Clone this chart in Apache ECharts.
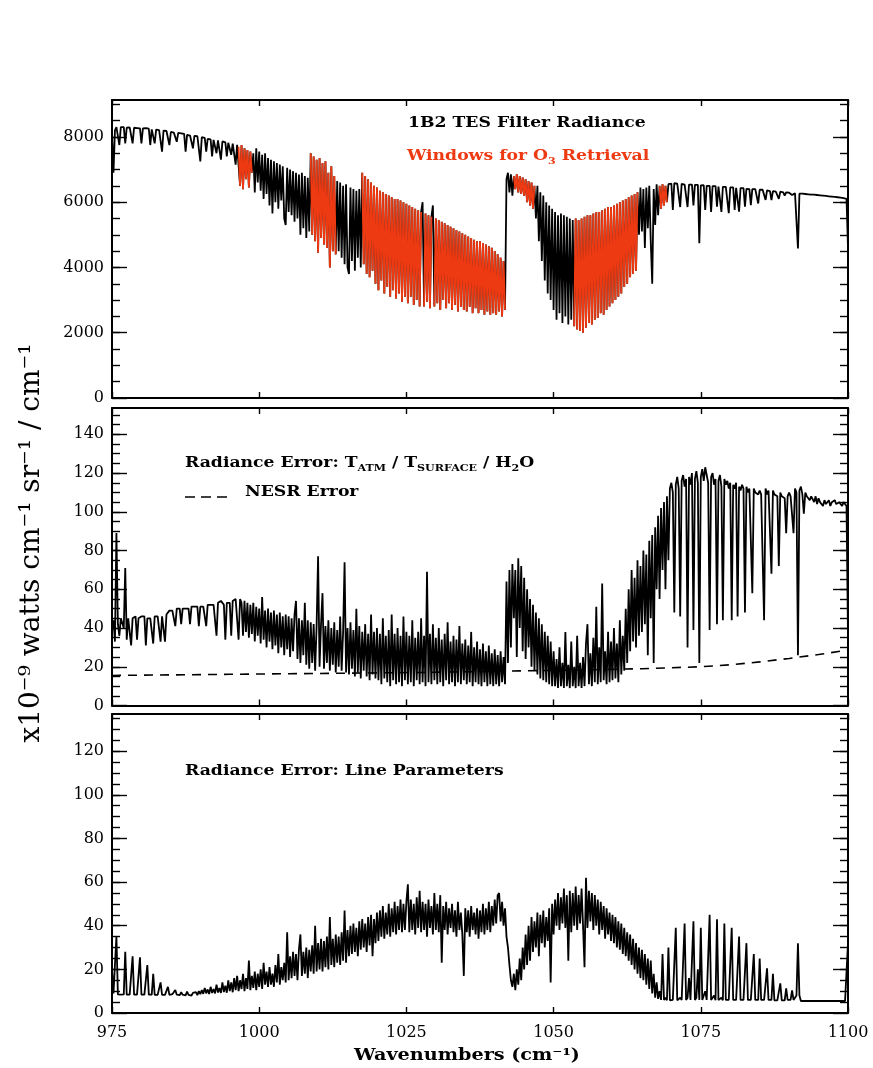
<!DOCTYPE html>
<html><head><meta charset="utf-8">
<script src="https://cdn.jsdelivr.net/npm/echarts@6/dist/echarts.min.js"></script>
<style>html,body{margin:0;padding:0;background:#fff}#c{width:873px;height:1068px}</style>
</head><body><div id="c"></div>
<script>
// wavenumber grid: 975 + 0.25*i  (501 samples, 975..1100 cm-1)
const WN_START = 975, WN_STEP = 0.25;

// Panel 1: 1B2 TES filter radiance (x1e-9 W cm-1 sr-1 / cm-1)
const radiance = [
8150,6900,8200,8300,8320,7750,8300,8330,8300,7800,8280,8310,8290,8300,7800,8280,8300,8270,8290,8260,
7800,8260,8250,8270,8240,8250,7750,8230,8220,7800,8220,8200,8210,8180,7550,8190,8170,8180,8160,7750,
8150,8160,8130,8140,7850,8120,8100,8110,8080,8090,7550,8060,8070,8040,8050,7650,8030,8010,8020,7990,
7250,7990,7960,7970,7550,7940,7950,7920,7400,7910,7900,7500,7890,7870,7300,7860,7850,7830,7400,7820,
7800,7450,7790,7780,7150,7760,7700,6500,7750,6400,7650,6700,7600,6450,7550,6900,7500,6300,7650,6600,
7550,6350,7450,6100,7500,6250,7350,5900,7300,5650,7250,6000,7200,5800,7150,6050,7100,5500,5300,7050,
5700,7000,5600,6950,5400,6900,5500,6850,5000,6900,5200,6800,4900,6750,5100,7500,5000,7400,4800,7300,
4450,7350,4900,7200,4700,7250,4600,6900,4000,7100,4500,6800,4400,6650,4500,6600,4300,6500,4100,6550,
4000,3800,6450,4200,6400,3900,6350,4300,6400,4000,6900,4100,6800,3800,6700,3700,6600,3900,6500,3500,
6450,3300,6350,3600,6300,3200,6250,3400,6200,3100,6150,3300,6100,3050,6100,3200,6050,2950,6000,3100,
5950,2900,5900,3100,5850,2850,5800,3000,5750,2800,5700,6000,2800,5650,2950,5600,2750,5550,5900,2800,
5500,2900,5450,2700,5400,3000,5350,2750,5300,2900,5250,2700,5200,2850,5150,2650,5100,2800,5050,2700,
5000,2650,4950,2800,4900,2600,4850,2750,4800,2600,4800,2700,4750,2550,4700,2650,4650,2550,4600,2600,
4500,2550,4400,2650,4300,2500,4200,2700,6700,6900,6300,6850,6200,6800,6400,6850,6300,6800,6250,6750,
6200,6700,6000,6650,5900,6600,5800,6500,5500,6500,4800,6300,4200,6200,3600,6000,3200,5900,3000,5800,
2700,5700,2400,5600,2600,5650,2300,5600,2500,5550,2250,5500,2400,5450,2200,5500,2100,5450,2050,5500,
2000,5550,2150,5600,2300,5600,2250,5650,2400,5700,2450,5700,2600,5750,2550,5800,2700,5850,2800,5850,
2900,5900,3000,5950,3100,6000,3200,6050,3400,6100,3500,6150,3700,6200,3800,6250,3900,6300,5000,6450,
5100,6400,4600,6450,5200,6500,4800,3500,6400,5300,6550,5600,6500,5800,6550,5900,6500,6000,6550,6580,
6570,5760,6580,6560,6570,6550,5850,6560,6550,6540,6550,5850,6540,6530,6540,5900,6530,6520,6530,4740,
6510,6500,6520,5760,6500,6490,6500,5700,6490,6480,6490,5860,6480,6470,5700,6470,6460,6470,6450,5660,
6450,6440,6450,5760,6440,6430,5710,6430,6420,6430,5860,6410,6420,6400,5910,6400,6390,6400,6380,5960,
6380,6370,6380,6360,6070,6360,6350,6340,6060,6340,6330,6320,6330,6100,6320,6310,6300,6200,6300,6290,
6290,6280,6220,6280,6270,6260,4580,6260,6250,6260,6240,6250,6230,6240,6200,6230,6220,6230,6210,6220,
6200,6210,6190,6200,6180,6190,6170,6180,6160,6170,6150,6160,6140,6150,6130,6140,6130,6120,6130,6100,
4600];

// O3 retrieval windows (cm-1), drawn in red over the radiance
const o3Windows = [[996.5,998.75],[1008.75,1013],[1017.5,1027.5],[1028,1029.25],[1029.75,1041.75],[1043.25,1046.75],[1053.5,1064.25],[1068,1069.25]];

// Panel 2: radiance error from T_ATM / T_SURFACE / H2O
const errTempH2O = [
40,44,33,89,42,36,45,44,40,71,34,45,44,31,45,44,46,34,45,44,
46,45,46,31,45,46,45,46,32,46,45,46,47,33,46,47,33,47,48,49,
50,49,50,41,50,51,50,42,50,51,50,51,50,42,51,50,51,52,51,41,
51,52,51,52,41,52,53,52,53,52,53,36,53,52,54,53,52,34,53,54,
53,36,54,53,55,54,34,55,53,36,54,38,53,35,52,37,53,33,51,36,
50,32,56,34,49,30,50,33,48,29,49,31,47,27,48,30,46,26,47,29,
46,25,45,28,47,54,24,45,22,44,26,53,21,44,19,43,22,42,18,41,
77,20,42,58,19,41,22,44,18,40,21,43,17,39,20,46,18,38,74,17,
40,16,43,19,39,15,50,17,41,14,38,18,42,15,37,13,47,16,38,14,
40,13,37,11,45,14,36,12,39,10,47,13,37,11,40,12,36,10,46,13,
38,11,36,12,44,10,35,13,38,11,45,12,36,10,69,12,37,11,42,13,
35,11,40,12,34,10,37,13,43,11,33,12,36,10,34,12,41,11,32,13,
34,11,31,12,38,10,30,12,33,11,29,10,32,12,28,10,31,11,27,10,
29,11,26,10,28,12,25,11,64,22,70,30,73,45,70,25,76,40,72,28,
66,24,60,30,55,20,52,18,48,16,45,14,42,13,38,12,36,11,33,10,
28,10,24,9,30,10,22,9,38,10,21,9,33,10,20,9,36,10,22,9,
25,10,32,42,11,27,10,35,12,51,11,30,12,63,13,28,11,38,12,33,
13,40,14,32,12,44,16,36,18,50,22,60,28,70,33,66,30,75,36,72,
38,80,42,78,26,85,45,88,22,92,60,98,55,102,70,105,60,108,75,112,
115,110,48,114,118,112,46,116,119,113,117,30,118,114,120,39,117,121,115,22,
118,122,116,123,119,115,39,118,120,114,117,42,116,119,113,44,117,114,116,112,
115,44,114,112,115,46,113,111,114,112,48,113,110,112,111,58,112,110,111,109,
111,109,110,44,112,109,111,110,68,111,109,110,108,72,110,108,109,107,89,108,
110,108,109,89,112,110,26,111,113,109,99,110,108,109,106,108,107,105,108,104,
107,105,106,103,106,104,105,106,103,105,104,106,104,103,105,104,103,105,104,103,
35];

// Panel 2: NESR error (dashed)
const nesrWn  = [975, 985, 995, 1005, 1015, 1025, 1035, 1045, 1055, 1065, 1075, 1080, 1085, 1090, 1095, 1100];
const nesrErr = [15.5,15.8,16.1,16.4,16.7,17.0,17.4,17.9,18.4,19.0,20.0,21.0,22.5,24.3,26.3,28.6];

// Panel 3: radiance error from line parameters
const errLinePar = [
20,9,8.5,35,8.5,8.3,8.4,8.3,8.5,28,8.4,8.3,8.4,8.3,26,8.4,8.3,8.4,8.4,25.5,
8.4,8.3,8.4,8.5,22,8.4,8.3,8.4,18,8.3,8.4,8.3,8.4,14,8.3,8.4,8.3,8.4,12,8.3,
8.4,8.6,8.3,10.5,8.4,8.7,8.2,9.5,8.4,8.8,8.1,9.8,8.3,9,8,9.2,8.4,9.6,8.2,10,
8.6,10.5,8.8,11.5,9,10.8,8.7,12,9.2,11,9,13,9.4,11.5,9.2,14,9.6,12.5,9.3,15,
10,14,9.5,16,10.5,17,10,15,11,18,10,16,11,24,10.5,17,11.5,19,10.5,18,
12,20,11,23,13,19,12,21,13,18,12,22,14,27,13,21,15,23,14,37,
15,26,16,28,17,27,15,29,36,17,28,18,30,16,29,19,31,18,40,19,
32,20,34,19,33,21,35,20,44,22,34,21,36,23,35,22,37,24,47,23,
38,26,40,27,41,28,39,26,42,29,43,30,41,28,44,31,45,26,43,32,
46,33,47,35,49,34,46,36,50,35,48,37,51,36,49,38,52,37,50,38,
51,59,37,52,38,50,36,53,39,56,37,51,38,50,35,52,39,49,36,55,
38,50,37,54,23,49,38,51,36,48,39,50,37,47,35,51,38,46,36,17,
48,37,47,35,49,38,46,36,48,34,47,37,50,36,48,38,51,37,49,40,
52,41,54,55,42,51,40,48,35,30,22,15,12,18,10.5,20,13,25,15,30,
20,36,22,40,24,44,28,42,30,46,26,45,32,47,30,44,33,48,14,50,
36,52,40,55,38,53,41,57,39,54,24,56,37,55,40,58,38,54,41,57,
40,21,62,39,56,42,55,38,54,40,52,36,51,38,49,34,48,36,46,33,
45,32,44,30,42,29,41,27,39,26,37,24,36,22,34,20,32,18,30,16,
29,15,27,13,25,11,24,9,18,7,14,6.5,10,6,27,6,7,5.8,30,5.8,
5.8,6,5.8,39,5.8,6,7,6,5.8,41,6,7,16,6,5.8,42,6,7,20,6,
39,6,5.8,10,6,5.8,45,6,5.8,8,5.8,43,6,5.8,7,5.8,41,6,5.8,6,
5.8,39,6,5.8,6,5.8,35,6,5.8,6,5.8,32,6,5.8,6,5.8,27,6,5.8,6,
25,6,5.8,6,5.8,20.5,6,5.8,6,18,5.8,6,5.8,6,13.6,5.8,6,5.8,11.3,6,
5.8,6,10.4,6,5.8,8,32,8,5.5,5.4,5.5,5.4,5.5,5.4,5.5,5.4,5.5,5.4,5.5,5.4,
5.5,5.4,5.5,5.4,5.5,5.4,5.5,5.4,5.5,5.4,5.5,5.4,5.5,5.4,5.5,5.4,5.5,5.4,5.5,5.5,
32];

// axis ticks
const xTickVals = [975, 1000, 1025, 1050, 1075, 1100];
const p1Major = [0, 2000, 4000, 6000, 8000];
const p2Major = [0, 20, 40, 60, 80, 100, 120, 140];
const p3Major = [0, 20, 40, 60, 80, 100, 120];
const panelMax = [9130, 153.6, 137];
const minorStep = [500, 5, 5];

const FONT = 'DejaVu Serif';
const RED = '#ee3a12';

function toPairs(arr){ return arr.map((v,i)=>[WN_START + WN_STEP*i, v]); }
function inWin(w){ return o3Windows.some(r => w >= r[0]-1e-6 && w <= r[1]+1e-6); }
const radPairs = toPairs(radiance);
const redPairs = radPairs.map(p => inWin(p[0]) ? p : [p[0], '-']);
const errPairs = toPairs(errTempH2O);
const linePairs = toPairs(errLinePar);
const nesrPairs = nesrWn.map((w,i)=>[w, nesrErr[i]]);

const majors = [p1Major, p2Major, p3Major];
const minors = majors.map((m,p)=>{ const out=[]; for(let v=minorStep[p]; v<panelMax[p]; v+=minorStep[p]) out.push(v); return out; });

const grids = [
  {left:112, width:736, top:100, height:298},
  {left:112, width:736, top:408, height:297.5},
  {left:112, width:736, top:714, height:299}
];
const AXL = {show:true, onZero:false, lineStyle:{color:'#000', width:2}};
const TK = {color:'#000', width:1.4};
const plain = v => String(v);
const xAxis = [], yAxis = [];
for (let p=0;p<3;p++){
  ['bottom','top'].forEach(pos=>{
    xAxis.push({gridIndex:p, type:'value', min:975, max:1100, position:pos,
      axisLine:AXL,
      axisTick:{show:true, inside:true, length:6, customValues:xTickVals, lineStyle:TK},
      axisLabel:{show:(p===2 && pos==='bottom'), customValues:xTickVals, formatter:plain, margin:12, fontFamily:FONT, fontSize:16, color:'#000'},
      splitLine:{show:false}});
  });
  ['left','right'].forEach(pos=>{
    yAxis.push({gridIndex:p, type:'value', min:0, max:panelMax[p], position:pos,
      axisLine:AXL,
      axisTick:{show:true, inside:true, length:15, customValues:majors[p], lineStyle:TK},
      axisLabel:{show:pos==='left', customValues:majors[p], formatter:plain, margin:8, fontFamily:FONT, fontSize:16, color:'#000'},
      splitLine:{show:false}});
    yAxis.push({gridIndex:p, type:'value', min:0, max:panelMax[p], position:pos,
      axisLine:{show:false},
      axisTick:{show:true, inside:true, length:8, customValues:minors[p], lineStyle:TK},
      axisLabel:{show:false},
      splitLine:{show:false}});
  });
}
// yAxis order per panel: left major(4p), left minor, right major, right minor
const LW = 1.8;
const lineBase = {type:'line', showSymbol:false, symbol:'none', animation:false, silent:true, clip:true};
const series = [
  Object.assign({}, lineBase, {xAxisIndex:0, yAxisIndex:0, data:radPairs, lineStyle:{color:'#000', width:LW}}),
  Object.assign({}, lineBase, {xAxisIndex:0, yAxisIndex:0, data:redPairs, connectNulls:false, lineStyle:{color:RED, width:LW}}),
  Object.assign({}, lineBase, {xAxisIndex:2, yAxisIndex:4, data:nesrPairs, lineStyle:{color:'#000', width:1.6, type:[9,7]}}),
  Object.assign({}, lineBase, {xAxisIndex:2, yAxisIndex:4, data:errPairs, lineStyle:{color:'#000', width:LW}}),
  Object.assign({}, lineBase, {xAxisIndex:4, yAxisIndex:8, data:linePairs, lineStyle:{color:'#000', width:LW}})
];

function rich(fill){
  return {
    n:{fontFamily:FONT, fontSize:14, fontWeight:'bold', lineHeight:20, fill:fill},
    s:{fontFamily:FONT, fontSize:9, fontWeight:'bold', lineHeight:9, verticalAlign:'bottom', fill:fill}
  };
}
const SX = 1.23;
const graphic = [
  {type:'text', x:408, y:123, scaleX:SX, style:{text:'{n|1B2 TES Filter Radiance}', rich:rich('#000'), align:'left', verticalAlign:'middle'}},
  {type:'text', x:407, y:156, scaleX:SX, style:{text:'{n|Windows for O}{s|3}{n| Retrieval}', rich:rich(RED), align:'left', verticalAlign:'middle'}},
  {type:'text', x:185, y:463, scaleX:SX, style:{text:'{n|Radiance Error: T}{s|ATM}{n| / T}{s|SURFACE}{n| / H}{s|2}{n|O}', rich:rich('#000'), align:'left', verticalAlign:'middle'}},
  {type:'line', shape:{x1:185, y1:497, x2:228, y2:497}, style:{stroke:'#000', lineWidth:1.5, lineDash:[10,6]}},
  {type:'text', x:245, y:492, scaleX:SX, style:{text:'{n|NESR Error}', rich:rich('#000'), align:'left', verticalAlign:'middle'}},
  {type:'text', x:185, y:771, scaleX:SX, style:{text:'{n|Radiance Error: Line Parameters}', rich:rich('#000'), align:'left', verticalAlign:'middle'}},
  {type:'text', x:32, y:543, rotation:Math.PI/2, style:{text:'x10\u207B\u2079 watts cm\u207B\u00B9 sr\u207B\u00B9 / cm\u207B\u00B9', fontFamily:FONT, fontSize:28, fill:'#000', align:'center', verticalAlign:'middle'}},
  {type:'text', x:467, y:1056, scaleX:1.2, style:{text:'Wavenumbers (cm\u207B\u00B9)', fontFamily:FONT, fontSize:16, fontWeight:'bold', fill:'#000', align:'center', verticalAlign:'middle'}}
];

const chart = echarts.init(document.getElementById('c'), null, {renderer:'canvas'});
chart.setOption({
  backgroundColor:'#fff',
  animation:false,
  grid:grids,
  xAxis:xAxis,
  yAxis:yAxis,
  series:series,
  graphic:graphic
});
</script>
</body></html>
